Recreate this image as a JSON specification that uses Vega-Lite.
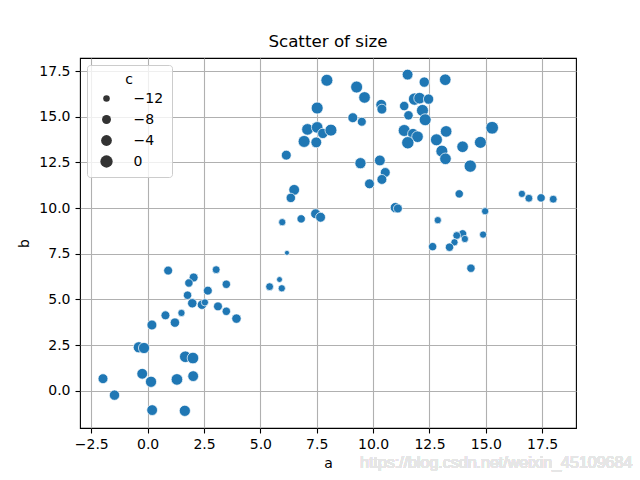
{
  "$schema": "https://vega.github.io/schema/vega-lite/v6.json",
  "width": 496,
  "height": 370,
  "autosize": {"type": "none"},
  "padding": {"left": 80, "top": 58, "right": 64, "bottom": 52},
  "title": {"text": "Scatter of size", "fontSize": 16.7, "fontWeight": "normal", "font": "DejaVu Sans", "color": "black", "offset": 7, "anchor": "middle"},
  "config": {
    "font": "DejaVu Sans",
    "view": {"stroke": "black", "strokeWidth": 1.1},
    "axis": {
      "grid": true, "gridColor": "#b0b0b0", "gridWidth": 1.1, "gridOpacity": 1,
      "domain": false, "tickColor": "black", "tickSize": 5, "tickWidth": 1.1,
      "labelFontSize": 14, "labelColor": "black", "labelFont": "DejaVu Sans",
      "titleFontSize": 14, "titleFontWeight": "normal", "titleColor": "black", "titleFont": "DejaVu Sans"
    }
  },
  "data": {"values": [
    {"a": 7.95, "b": 17.0, "c": -1},
    {"a": 7.52, "b": 15.48, "c": -1},
    {"a": 7.09, "b": 14.31, "c": -2},
    {"a": 7.52, "b": 14.42, "c": -2},
    {"a": 7.77, "b": 14.09, "c": -5},
    {"a": 8.13, "b": 14.27, "c": -1},
    {"a": 6.94, "b": 13.65, "c": -1},
    {"a": 7.48, "b": 13.6, "c": -4},
    {"a": 6.15, "b": 12.9, "c": -6},
    {"a": 6.5, "b": 11.0, "c": -4},
    {"a": 6.35, "b": 10.56, "c": -7},
    {"a": 7.45, "b": 9.69, "c": -6},
    {"a": 7.67, "b": 9.5, "c": -6},
    {"a": 5.97, "b": 9.23, "c": -11},
    {"a": 6.81, "b": 9.41, "c": -9},
    {"a": 11.53, "b": 17.31, "c": -4},
    {"a": 13.2, "b": 17.03, "c": -2},
    {"a": 12.27, "b": 16.9, "c": -5},
    {"a": 9.27, "b": 16.63, "c": -1},
    {"a": 9.62, "b": 16.06, "c": -2},
    {"a": 10.36, "b": 15.66, "c": -4},
    {"a": 10.39, "b": 15.42, "c": -6},
    {"a": 11.38, "b": 15.59, "c": -7},
    {"a": 11.84, "b": 15.97, "c": 0},
    {"a": 12.06, "b": 16.02, "c": -2},
    {"a": 12.46, "b": 15.97, "c": -5},
    {"a": 12.19, "b": 15.35, "c": -1},
    {"a": 11.57, "b": 15.08, "c": -7},
    {"a": 12.31, "b": 14.84, "c": -1},
    {"a": 9.1, "b": 14.95, "c": -6},
    {"a": 9.5, "b": 14.73, "c": -8},
    {"a": 11.38, "b": 14.25, "c": -1},
    {"a": 11.77, "b": 14.07, "c": -4},
    {"a": 11.97, "b": 13.91, "c": -2},
    {"a": 11.54, "b": 13.58, "c": 0},
    {"a": 13.24, "b": 14.2, "c": -2},
    {"a": 12.81, "b": 13.74, "c": -1},
    {"a": 15.28, "b": 14.4, "c": 1},
    {"a": 14.76, "b": 13.6, "c": -1},
    {"a": 13.97, "b": 13.36, "c": -2},
    {"a": 13.05, "b": 13.12, "c": -1},
    {"a": 13.21, "b": 12.7, "c": -2},
    {"a": 14.31, "b": 12.3, "c": 0},
    {"a": 9.44, "b": 12.46, "c": -3},
    {"a": 10.3, "b": 12.61, "c": -4},
    {"a": 10.54, "b": 11.95, "c": -6},
    {"a": 10.39, "b": 11.57, "c": -6},
    {"a": 9.84, "b": 11.33, "c": -6},
    {"a": 13.82, "b": 10.78, "c": -9},
    {"a": 16.6, "b": 10.78, "c": -11},
    {"a": 16.91, "b": 10.54, "c": -10},
    {"a": 17.45, "b": 10.56, "c": -9},
    {"a": 17.99, "b": 10.49, "c": -10},
    {"a": 10.99, "b": 10.03, "c": -5},
    {"a": 11.1, "b": 9.98, "c": -8},
    {"a": 14.97, "b": 9.83, "c": -11},
    {"a": 12.87, "b": 9.34, "c": -11},
    {"a": 14.88, "b": 8.55, "c": -11},
    {"a": 13.97, "b": 8.59, "c": -9},
    {"a": 13.71, "b": 8.5, "c": -10},
    {"a": 14.07, "b": 8.31, "c": -11},
    {"a": 13.61, "b": 8.13, "c": -11},
    {"a": 12.64, "b": 7.89, "c": -9},
    {"a": 13.39, "b": 7.86, "c": -9},
    {"a": 14.34, "b": 6.71, "c": -9},
    {"a": 6.18, "b": 7.55, "c": -14},
    {"a": 0.91, "b": 6.58, "c": -8},
    {"a": 3.04, "b": 6.63, "c": -10},
    {"a": 2.04, "b": 6.2, "c": -8},
    {"a": 1.83, "b": 5.9, "c": -9},
    {"a": 3.49, "b": 5.83, "c": -9},
    {"a": 2.67, "b": 5.48, "c": -8},
    {"a": 5.41, "b": 5.7, "c": -10},
    {"a": 5.85, "b": 6.09, "c": -13},
    {"a": 5.95, "b": 5.61, "c": -11},
    {"a": 1.77, "b": 5.23, "c": -9},
    {"a": 1.98, "b": 4.79, "c": -7},
    {"a": 1.5, "b": 4.26, "c": -11},
    {"a": 2.41, "b": 4.71, "c": -7},
    {"a": 2.54, "b": 4.84, "c": -11},
    {"a": 3.12, "b": 4.62, "c": -8},
    {"a": 3.49, "b": 4.35, "c": -9},
    {"a": 3.94, "b": 3.95, "c": -7},
    {"a": 0.79, "b": 4.13, "c": -8},
    {"a": 1.21, "b": 3.73, "c": -7},
    {"a": 0.19, "b": 3.6, "c": -6},
    {"a": -0.39, "b": 2.38, "c": -3},
    {"a": -0.16, "b": 2.34, "c": -3},
    {"a": 1.67, "b": 1.86, "c": -2},
    {"a": 2.01, "b": 1.79, "c": -2},
    {"a": -1.98, "b": 0.66, "c": -6},
    {"a": -1.47, "b": -0.24, "c": -5},
    {"a": -0.24, "b": 0.93, "c": -4},
    {"a": 0.15, "b": 0.49, "c": -3},
    {"a": 1.3, "b": 0.62, "c": -2},
    {"a": 2.02, "b": 0.8, "c": -4},
    {"a": 0.2, "b": -1.06, "c": -4},
    {"a": 1.65, "b": -1.1, "c": -3}
  ]},
  "encoding": {
    "x": {"field": "a", "type": "quantitative", "title": "a",
      "scale": {"domain": [-3, 19], "nice": false, "zero": false},
      "axis": {"values": [-2.5, 0, 2.5, 5, 7.5, 10, 12.5, 15, 17.5], "format": ".1f", "labelPadding": 4, "titlePadding": 5}},
    "y": {"field": "b", "type": "quantitative", "title": "b",
      "scale": {"domain": [-2.04, 18.22], "nice": false, "zero": false},
      "axis": {"values": [0, 2.5, 5, 7.5, 10, 12.5, 15, 17.5], "format": ".1f", "labelPadding": 5, "titlePadding": 7}}
  },
  "layer": [
    {
      "transform": [{"filter": "datum.c > 100"}],
      "mark": {"type": "point", "filled": true, "opacity": 1, "color": "#333333", "strokeWidth": 0},
      "encoding": {
        "size": {"field": "c", "type": "quantitative",
          "scale": {"domain": [-14, 2], "range": [25, 170]},
          "legend": {"values": [-12, -8, -4, 0], "title": "c", "format": "d", "orient": "top-left", "offset": 7, "padding": 8,
            "strokeColor": "#cccccc", "fillColor": "rgba(255,255,255,0.8)", "cornerRadius": 3,
            "symbolOffset": 4.5, "symbolStrokeWidth": 0, "symbolOpacity": 1, "symbolFillColor": "#333333",
            "labelFontSize": 14, "labelColor": "black", "titleFontSize": 14, "titleFontWeight": "normal", "titleColor": "black",
            "titleAnchor": "middle", "rowPadding": 7, "labelOffset": 20, "titlePadding": 4.5}}
      }
    },
    {
      "mark": {"type": "point", "filled": true, "opacity": 1, "color": "#1f77b4", "stroke": "white", "strokeWidth": 0.7},
      "encoding": {
        "size": {"field": "c", "type": "quantitative", "legend": null}
      }
    },
    {
      "mark": {"type": "text", "text": "https://blog.csdn.net/weixin_45109684", "font": "Liberation Sans", "fontSize": 16, "color": "#e6e6e6", "align": "center", "baseline": "middle"},
      "encoding": {
        "x": {"datum": 15.46, "type": "quantitative"},
        "y": {"datum": -3.95, "type": "quantitative"}
      }
    }
  ]
}
